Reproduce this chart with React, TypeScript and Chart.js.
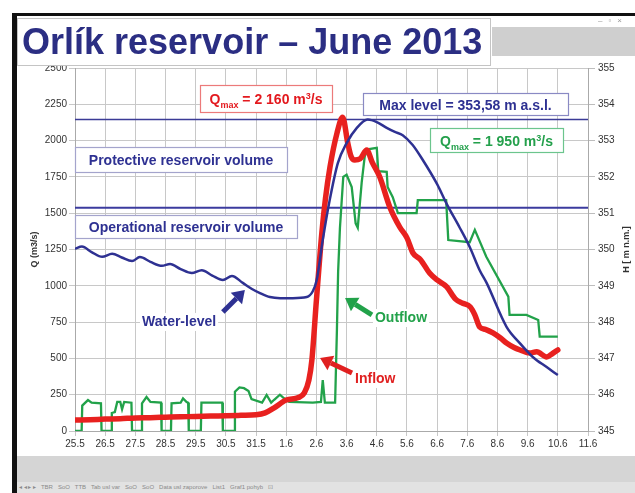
import React, { useEffect, useRef } from 'react';
import { Chart, registerables } from 'chart.js';
Chart.register(...registerables);

// ---------- data ----------
const xTickLabels = ['25.5','26.5','27.5','28.5','29.5','30.5','31.5','1.6','2.6','3.6','4.6','5.6','6.6','7.6','8.6','9.6','10.6','11.6'];

// days since 25.5. (x axis), inflow Q [m3/s]
const inflowDays = [0,0.5,1,1.5,2,2.5,3,3.5,4,4.5,5,5.5,6,6.3,6.6,7.0,7.4,7.6,7.75,7.85,8.0,8.18,8.3,8.45,8.68,8.87,9.04,9.15,9.27,9.45,9.67,9.85,10.1,10.43,10.76,11.0,11.2,11.45,11.75,12.0,12.32,12.6,12.85,13.1,13.25,13.41,13.6,13.85,14.1,14.3,14.55,14.75,15.07,15.3,15.63,15.8,16];
const inflowQ = [75,78,82,85,90,92,95,98,100,103,105,108,112,125,160,213,230,262,350,489,900,1364,1600,1818,2050,2160,1983,1890,1866,1875,1935,1850,1749,1543,1405,1330,1226,1180,1088,1040,992,910,880,854,800,716,700,675,640,606,575,558,537,545,510,530,558];

// outflow Q [m3/s]
const outflowDays = [0,0.22,0.24,0.43,0.55,0.86,0.88,1.2,1.22,1.32,1.4,1.5,1.56,1.63,1.87,1.89,2.2,2.22,2.37,2.5,2.85,2.87,3.18,3.2,3.5,3.58,3.7,3.75,3.77,4.17,4.19,4.88,4.9,5.27,5.3,5.45,5.6,5.75,5.85,6.2,6.35,6.5,6.6,6.79,6.9,7.1,7.88,8.15,8.21,8.28,8.62,8.68,8.72,8.78,8.89,9.0,9.17,9.3,9.37,9.5,9.6,9.7,10.0,10.05,10.33,10.36,10.53,10.7,11.32,11.36,12.3,12.37,13.08,13.25,13.63,14.36,14.4,14.96,15.35,15.4,16.0];
const outflowQ = [0,0,175,213,195,190,0,0,124,130,200,200,150,200,195,0,0,190,234,200,195,0,0,190,195,225,200,195,0,0,195,195,0,0,270,300,295,275,220,195,248,195,215,250,230,200,195,200,351,195,195,700,1100,1400,1750,1765,1680,1430,1400,1710,1890,1940,1950,1790,1785,1680,1610,1500,1500,1590,1590,1315,1300,1385,1200,925,800,800,765,650,650];

// water level H [m a.s.l.]
const levelDays = [0,0.23,0.55,0.9,1.23,1.55,1.89,2.15,2.5,2.88,3.15,3.5,3.87,4.2,4.55,4.9,5.2,5.56,5.85,6.13,6.46,6.8,7.22,7.68,7.88,8.01,8.21,8.44,8.71,9.0,9.34,9.7,10.0,10.33,10.6,10.86,11.19,11.5,12.0,12.32,12.75,13.08,13.41,13.64,14.3,14.74,15.17,15.63,16.0];
const levelH = [350.02,350.08,349.93,349.8,349.88,349.78,349.68,349.79,349.66,349.55,349.6,349.46,349.35,349.43,349.28,349.16,349.27,349.08,348.92,348.8,348.69,348.66,348.66,348.69,348.85,349.16,350.26,351.36,352.38,352.93,353.35,353.58,353.51,353.35,353.24,353.15,352.88,352.5,351.8,351.25,350.6,350.07,349.43,349.08,347.87,347.42,347.04,346.76,346.54];

const maxLevel = 353.58;
const operationalLevel = 351.15;
const levelLineDays = [0, 17];

// ---------- styles ----------
const F = '"Liberation Sans", Arial, Helvetica, sans-serif';
const BLUE = '#2e3192';
const RED = '#e8211f';
const GREEN = '#22a24a';

type Part = { t: string; s: number; dy?: number };
const annBoxes: { d0: number; d1: number; q0: number; q1: number; color: string; border: string; parts: Part[] }[] = [
  { d0: 4.14, d1: 8.52, q0: 2383, q1: 2197, color: '#e3191e', border: '#ec7a7a',
    parts: [{ t: 'Q', s: 14 }, { t: 'max', s: 9, dy: 4 }, { t: ' = 2 160 m', s: 14 }, { t: '3', s: 9, dy: -5 }, { t: '/s', s: 14 }] },
  { d0: 9.54, d1: 16.34, q0: 2328, q1: 2176, color: BLUE, border: '#8a8ac4',
    parts: [{ t: 'Max level = 353,58 m a.s.l.', s: 14 }] },
  { d0: 11.76, d1: 16.17, q0: 2087, q1: 1921, color: '#24a04c', border: '#6cc58d',
    parts: [{ t: 'Q', s: 14 }, { t: 'max', s: 9, dy: 4 }, { t: ' = 1 950 m', s: 14 }, { t: '3', s: 9, dy: -5 }, { t: '/s', s: 14 }] },
  { d0: 0, d1: 7.02, q0: 1956, q1: 1784, color: BLUE, border: '#a4a4cc',
    parts: [{ t: 'Protective reservoir volume', s: 14 }] },
  { d0: 0, d1: 7.36, q0: 1488, q1: 1329, color: BLUE, border: '#a4a4cc',
    parts: [{ t: 'Operational reservoir volume', s: 14 }] },
];

const annLabels = [
  { text: 'Water-level', d: 2.22, q: 751, color: BLUE, tail: [4.9, 820], head: [5.63, 971] },
  { text: 'Outflow', d: 9.94, q: 778, color: GREEN, tail: [9.84, 799], head: [8.95, 916] },
  { text: 'Inflow', d: 9.28, q: 358, color: '#e02020', tail: [9.18, 399], head: [8.12, 503] },
];

function partsWidth(ctx: CanvasRenderingContext2D, parts: Part[]) {
  let w = 0;
  for (const p of parts) { ctx.font = `bold ${p.s}px ${F}`; w += ctx.measureText(p.t).width; }
  return w;
}
function drawParts(ctx: CanvasRenderingContext2D, parts: Part[], x: number, y: number) {
  let cx = x;
  for (const p of parts) {
    ctx.font = `bold ${p.s}px ${F}`;
    ctx.fillText(p.t, cx, y + (p.dy || 0));
    cx += ctx.measureText(p.t).width;
  }
}
function arrow(ctx: CanvasRenderingContext2D, x1: number, y1: number, x2: number, y2: number, color: string) {
  const ang = Math.atan2(y2 - y1, x2 - x1);
  const hl = 12, hw = 8;
  const bx = x2 - hl * Math.cos(ang), by = y2 - hl * Math.sin(ang);
  ctx.strokeStyle = color; ctx.lineWidth = 5; ctx.lineCap = 'butt';
  ctx.beginPath(); ctx.moveTo(x1, y1); ctx.lineTo(bx, by); ctx.stroke();
  ctx.fillStyle = color;
  ctx.beginPath(); ctx.moveTo(x2, y2);
  ctx.lineTo(bx + hw * Math.sin(ang), by - hw * Math.cos(ang));
  ctx.lineTo(bx - hw * Math.sin(ang), by + hw * Math.cos(ang));
  ctx.closePath(); ctx.fill();
}

const overlayPlugin = {
  id: 'overlay',
  afterDatasetsDraw(chart: any) {
    const { ctx, scales } = chart;
    const px = (d: number) => scales.x.getPixelForValue(d);
    const py = (q: number) => scales.y.getPixelForValue(q);
    ctx.save();
    for (const b of annBoxes) {
      const x0 = Math.round(px(b.d0)), x1 = Math.round(px(b.d1)), y0 = Math.round(py(b.q0)), y1 = Math.round(py(b.q1));
      ctx.fillStyle = '#fff';
      ctx.fillRect(x0, y0, x1 - x0, y1 - y0);
      ctx.strokeStyle = b.border; ctx.lineWidth = 1.2;
      ctx.strokeRect(x0 + 0.5, y0 + 0.5, x1 - x0, y1 - y0);
      ctx.fillStyle = b.color;
      ctx.textBaseline = 'alphabetic';
      const w = partsWidth(ctx, b.parts);
      drawParts(ctx, b.parts, (x0 + x1) / 2 - w / 2, (y0 + y1) / 2 + 5.5);
    }
    for (const l of annLabels) {
      ctx.font = `bold 14px ${F}`;
      const x = px(l.d), y = py(l.q);
      const w = ctx.measureText(l.text).width;
      ctx.fillStyle = '#fff';
      ctx.fillRect(x - 2, y - 9, w + 4, 18);
      ctx.fillStyle = l.color;
      ctx.textBaseline = 'middle';
      ctx.fillText(l.text, x, y);
      arrow(ctx, px(l.tail[0]), py(l.tail[1]), px(l.head[0]), py(l.head[1]), l.color);
    }
    ctx.restore();
  },
  afterDraw(chart: any) {
    const { ctx, chartArea } = chart;
    const cy = (chartArea.top + chartArea.bottom) / 2;
    ctx.save();
    ctx.fillStyle = '#333';
    ctx.font = `bold 9px ${F}`;
    ctx.textAlign = 'center';
    ctx.textBaseline = 'middle';
    ctx.translate(35, cy); ctx.rotate(-Math.PI / 2); ctx.fillText('Q (m3/s)', 0, 0);
    ctx.restore();
    ctx.save();
    ctx.fillStyle = '#333';
    ctx.font = `bold 9px ${F}`;
    ctx.textAlign = 'center';
    ctx.textBaseline = 'middle';
    ctx.translate(627, cy); ctx.rotate(-Math.PI / 2); ctx.fillText('H [ m n.m.]', 0, 0);
    ctx.restore();
  },
};

const pts = (xs: number[], ys: number[]) => xs.map((x, i) => ({ x, y: ys[i] }));

export default function App() {
  const ref = useRef<HTMLCanvasElement>(null);
  useEffect(() => {
    const canvas = ref.current!;
    const tickFont = { family: F, size: 10 };
    const chart = new Chart(canvas, {
      type: 'line',
      data: {
        datasets: [
          { label: 'Water-level', data: pts(levelDays, levelH), yAxisID: 'y2', borderColor: BLUE, borderWidth: 2.5, pointRadius: 0, cubicInterpolationMode: 'monotone' },
          { label: 'Inflow', data: pts(inflowDays, inflowQ), yAxisID: 'y', borderColor: RED, borderWidth: 5.5, pointRadius: 0, cubicInterpolationMode: 'monotone', borderJoinStyle: 'round', borderCapStyle: 'round' },
          { label: 'Outflow', data: pts(outflowDays, outflowQ), yAxisID: 'y', borderColor: GREEN, borderWidth: 2.3, pointRadius: 0, tension: 0 },
          { label: 'Max level', data: pts(levelLineDays, [maxLevel, maxLevel]), yAxisID: 'y2', borderColor: '#3b3b96', borderWidth: 1.6, pointRadius: 0 },
          { label: 'Operational level', data: pts(levelLineDays, [operationalLevel, operationalLevel]), yAxisID: 'y2', borderColor: '#3b3b9e', borderWidth: 1.8, pointRadius: 0 },
        ],
      },
      options: {
        animation: false,
        responsive: false,
        devicePixelRatio: 1,
        events: [],
        layout: { padding: { left: 18, right: 0, top: 68, bottom: 42 } },
        plugins: { legend: { display: false }, tooltip: { enabled: false }, title: { display: false } },
        scales: {
          x: {
            type: 'linear', min: 0, max: 17,
            grid: { color: '#c8c8c8', lineWidth: 1, tickLength: 5 },
            border: { color: '#aaaaaa' },
            ticks: { stepSize: 1, autoSkip: false, maxRotation: 0, padding: 2, color: '#333', font: tickFont,
              callback: (v: any) => xTickLabels[Math.round(Number(v))] ?? '' },
            afterFit: (s: any) => { s.height = 20; },
          },
          y: {
            type: 'linear', position: 'left', min: 0, max: 2500,
            grid: { color: '#c8c8c8', lineWidth: 1, tickLength: 6 },
            border: { color: '#aaaaaa' },
            ticks: { stepSize: 250, padding: 2, color: '#333', font: tickFont, callback: (v: any) => String(v) },
            afterFit: (s: any) => { s.width = 57; },
          },
          y2: {
            type: 'linear', position: 'right', min: 345, max: 355,
            grid: { drawOnChartArea: false, color: '#bdbdbd', tickLength: 7 },
            border: { color: '#aaaaaa' },
            ticks: { stepSize: 1, padding: 3, color: '#333', font: tickFont, callback: (v: any) => String(v) },
            afterFit: (s: any) => { s.width = 47; },
          },
        },
      } as any,
      plugins: [overlayPlugin],
    });
    return () => chart.destroy();
  }, []);

  return (
    <div style={{ position: 'fixed', left: 0, top: 0, width: 635, height: 493, background: '#fff', overflow: 'hidden' }}>
      <canvas ref={ref} width={635} height={493} style={{ position: 'absolute', left: 0, top: 0, width: 635, height: 493 }} />
      {/* frame */}
      <div style={{ position: 'absolute', left: 12, top: 13, width: 623, height: 3, background: '#111' }} />
      <div style={{ position: 'absolute', left: 12, top: 13, width: 5, height: 480, background: '#111' }} />
      {/* window grey band + controls */}
      <div style={{ position: 'absolute', left: 492, top: 27, width: 143, height: 29, background: '#cfcfcf' }} />
      <div style={{ position: 'absolute', left: 598, top: 16, fontFamily: F, fontSize: 8, color: '#999', letterSpacing: 6 }}>–▫×</div>
      {/* title */}
      <div style={{ position: 'absolute', left: 17, top: 18, width: 474, height: 48, background: '#fff', border: '1px solid #c4c4c4', boxSizing: 'border-box',
        fontFamily: F, fontWeight: 'bold', fontSize: 36, lineHeight: '46px', color: '#2b2e83', paddingLeft: 4, whiteSpace: 'nowrap' }}>
        Orlík reservoir – June 2013
      </div>
      {/* bottom grey band */}
      <div style={{ position: 'absolute', left: 17, top: 456, width: 618, height: 37, background: '#d5d5d5' }} />
      <div style={{ position: 'absolute', left: 17, top: 482, width: 618, height: 11, background: '#e2e2e2',
        fontFamily: F, fontSize: 6, lineHeight: '11px', color: '#8a8a8a', whiteSpace: 'nowrap', paddingLeft: 2 }}>
        ◂ ◂ ▸ ▸&nbsp;&nbsp; TBR &nbsp; SoO &nbsp; TTB &nbsp; Tab usl var &nbsp; SoO &nbsp; SoO &nbsp; Data usl zaporove &nbsp; List1 &nbsp; Graf1 pohyb &nbsp; ⊡
      </div>
    </div>
  );
}
